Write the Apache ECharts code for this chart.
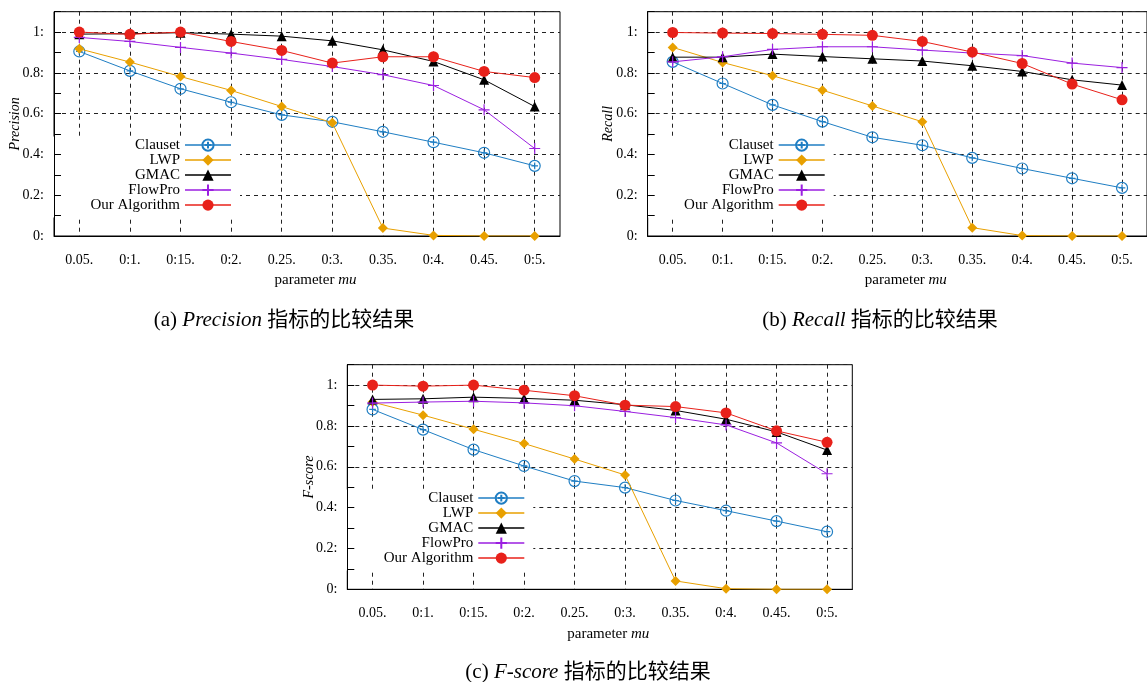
<!DOCTYPE html>
<html>
<head>
<meta charset="utf-8">
<script src="https://cdn.jsdelivr.net/npm/echarts@6/dist/echarts.min.js"></script>
<style>html,body{margin:0;padding:0;background:#fff;}#c{width:1147px;height:682px;}</style>
</head>
<body>
<div id="c"></div>
<script>
// ---- data ----
const xTickLabels = ['0.05.', '0:1.', '0:15.', '0:2.', '0.25.', '0:3.', '0.35.', '0:4.', '0.45.', '0:5.'];
const yTickLabels = ['0:', '0.2:', '0.4:', '0.6:', '0.8:', '1:'];
const seriesNames = ['Clauset', 'LWP', 'GMAC', 'FlowPro', 'Our Algorithm'];

const precisionClauset = [0.905, 0.810, 0.722, 0.656, 0.594, 0.560, 0.511, 0.460, 0.408, 0.344];
const precisionLWP     = [0.918, 0.853, 0.782, 0.714, 0.635, 0.555, 0.039, 0.003, 0.0, 0.0];
const precisionGMAC    = [0.990, 0.992, 0.997, 0.990, 0.980, 0.957, 0.913, 0.856, 0.766, 0.635];
const precisionFlowPro = [0.974, 0.954, 0.925, 0.897, 0.866, 0.831, 0.791, 0.738, 0.619, 0.429];
const precisionOur     = [1.000, 0.989, 1.000, 0.954, 0.910, 0.848, 0.879, 0.879, 0.807, 0.777];

const recallClauset = [0.854, 0.748, 0.643, 0.561, 0.484, 0.445, 0.383, 0.331, 0.283, 0.236];
const recallLWP     = [0.925, 0.851, 0.786, 0.715, 0.638, 0.560, 0.041, 0.002, 0.0, 0.0];
const recallGMAC    = [0.877, 0.877, 0.892, 0.880, 0.869, 0.858, 0.835, 0.807, 0.766, 0.740];
const recallFlowPro = [0.854, 0.879, 0.915, 0.928, 0.928, 0.912, 0.897, 0.885, 0.848, 0.826];
const recallOur     = [0.998, 0.995, 0.993, 0.989, 0.984, 0.954, 0.902, 0.846, 0.745, 0.668];

const fscoreClauset = [0.881, 0.782, 0.684, 0.604, 0.530, 0.498, 0.435, 0.385, 0.334, 0.282];
const fscoreLWP     = [0.917, 0.853, 0.784, 0.714, 0.638, 0.560, 0.041, 0.003, 0.0, 0.0];
const fscoreGMAC    = [0.930, 0.933, 0.941, 0.935, 0.926, 0.904, 0.876, 0.833, 0.771, 0.682];
const fscoreFlowPro = [0.912, 0.917, 0.921, 0.913, 0.899, 0.871, 0.841, 0.805, 0.717, 0.566];
const fscoreOur     = [1.000, 0.995, 1.000, 0.975, 0.948, 0.902, 0.895, 0.864, 0.776, 0.720];

const panelData = [
  [precisionClauset, precisionLWP, precisionGMAC, precisionFlowPro, precisionOur],
  [recallClauset, recallLWP, recallGMAC, recallFlowPro, recallOur],
  [fscoreClauset, fscoreLWP, fscoreGMAC, fscoreFlowPro, fscoreOur]
];
const yNames = ['Precision', 'Recall', 'F-score'];
const captions = [
  ['(a) ', 'Precision', ' 指标的比较结果'],
  ['(b) ', 'Recall', ' 指标的比较结果'],
  ['(c) ', 'F-score', ' 指标的比较结果']
];

// ---- layout / style ----
const SERIF = '"Liberation Serif", "Times New Roman", "Noto Sans CJK SC", serif';
const grids = [
  {left: 54, top: 11.7, width: 506, height: 224.3},
  {left: 647.7, top: 11.7, width: 505, height: 224.3},
  {left: 347.3, top: 364.7, width: 505, height: 224.6}
];
const yNameGaps = [32, 32, 31];
const captionPos = [[284, 320], [880, 320], [588, 672]];

const styles = [
  {color: '#1f7ec3', symbol: 'path://M0,10A10,10,0,1,1,20,10A10,10,0,1,1,0,10ZM10,4L10,16M4,10L16,10', size: 11, stroked: true},
  {color: '#e8a000', symbol: 'diamond', size: 10},
  {color: '#000000', symbol: 'triangle', size: 10},
  {color: '#9b1fe0', symbol: 'path://M0,5L10,5M5,0L5,10', size: 11, stroked: true},
  {color: '#e8211a', symbol: 'circle', size: 11}
];

const option = {
  animation: false,
  backgroundColor: '#fff',
  grid: grids.map(g => Object.assign({show: true, borderColor: '#000', borderWidth: 1, backgroundColor: 'transparent', containLabel: false}, g)),
  xAxis: grids.map((g, i) => ({
    type: 'category', gridIndex: i, data: xTickLabels, boundaryGap: true,
    axisLine: {show: true, onZero: false, lineStyle: {color: '#000', width: 1}},
    axisTick: {show: false},
    axisLabel: {interval: 0, margin: 17, fontFamily: SERIF, fontSize: 14, color: '#000'},
    splitLine: {show: true, interval: 0, alignWithLabel: true, lineStyle: {color: '#222', type: [4, 4], width: 1}},
    name: '{n|parameter }{i|mu}', nameLocation: 'middle', nameGap: 37, nameMoveOverlap: false,
    nameTextStyle: {padding: [0, 0, 0, 17], rich: {
      n: {fontFamily: SERIF, fontSize: 15, color: '#000'},
      i: {fontFamily: SERIF, fontSize: 15, color: '#000', fontStyle: 'italic'}
    }}
  })),
  yAxis: [],
  legend: [],
  series: [],
  graphic: []
};

grids.forEach((g, i) => {
  option.yAxis.push({
    type: 'value', gridIndex: i, position: 'left', min: 0, max: 1.1, interval: 0.2,
    axisLine: {show: false}, axisTick: {show: false},
    axisLabel: {margin: 10, fontFamily: SERIF, fontSize: 14, color: '#000',
      formatter: v => { const k = Math.round(v / 0.2); return (v <= 1.0001 && Math.abs(v - k * 0.2) < 1e-6) ? yTickLabels[k] : ''; }},
    splitLine: {show: true, lineStyle: {color: '#222', type: [4, 4], width: 1}},
    name: yNames[i], nameLocation: 'middle', nameRotate: 90, nameGap: yNameGaps[i], nameMoveOverlap: false,
    nameTextStyle: {fontFamily: SERIF, fontSize: 14, fontStyle: 'italic', color: '#000'}
  });
  option.yAxis.push({
    type: 'value', gridIndex: i, position: 'left', min: 0, max: 1.1, interval: 0.1, z: 10,
    axisLine: {show: true, lineStyle: {color: '#000', width: 1}},
    axisTick: {show: true, inside: true, length: 7, lineStyle: {color: '#000', width: 1}},
    axisLabel: {show: false}, splitLine: {show: false}
  });
  option.legend.push({
    orient: 'vertical', align: 'right', selectedMode: false,
    right: 1147 - (g.left + 186), top: g.top + 124.9,
    itemWidth: 46, itemHeight: 14, itemGap: 0,
    padding: [1, 8, 5, 38], backgroundColor: '#fff',
    textStyle: {fontFamily: SERIF, fontSize: 15, color: '#000'},
    lineStyle: {width: 2, opacity: 0.75},
    data: seriesNames
  });
  panelData[i].forEach((vals, s) => {
    const st = styles[s];
    option.series.push({
      type: 'line', name: seriesNames[s], xAxisIndex: i, yAxisIndex: 2 * i,
      data: vals, symbol: st.symbol, symbolSize: st.size, showAllSymbol: true,
      lineStyle: {color: st.color, width: 1},
      itemStyle: st.stroked ? {color: 'rgba(0,0,0,0)', borderColor: st.color, borderWidth: 1.2} : {color: st.color},
      emphasis: {disabled: true}, z: 2 + s
    });
  });
  const cap = captions[i];
  option.graphic.push({
    type: 'text', x: captionPos[i][0], y: captionPos[i][1], silent: true,
    style: {
      text: '{n|' + cap[0] + '}{i|' + cap[1] + '}{n|' + cap[2] + '}',
      align: 'center', verticalAlign: 'middle',
      rich: {
        n: {fontFamily: SERIF, fontSize: 21, fill: '#000'},
        i: {fontFamily: SERIF, fontSize: 21, fill: '#000', fontStyle: 'italic'}
      }
    }
  });
});

const chart = echarts.init(document.getElementById('c'), null, {renderer: 'canvas'});
chart.setOption(option);
</script>
</body>
</html>
